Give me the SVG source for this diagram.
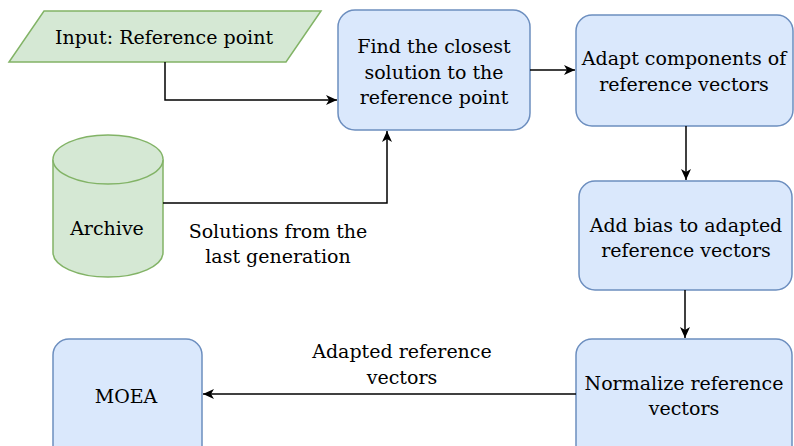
<svg xmlns="http://www.w3.org/2000/svg" width="794" height="446" viewBox="0 0 794 446">
<style>
text{font-family:"DejaVu Serif","Liberation Serif",serif;font-size:19px;fill:#000;text-anchor:middle}
.proc{fill:#dae8fc;stroke:#6c8ebf;stroke-width:1.5}
.io{fill:#d5e8d4;stroke:#82b366;stroke-width:1.5}
.edge{fill:none;stroke:#000;stroke-width:1.5;marker-end:url(#ah)}
</style>
<defs>
<marker id="ah" markerUnits="userSpaceOnUse" markerWidth="12" markerHeight="10" viewBox="0 0 12 10" refX="11" refY="5" orient="auto">
<path d="M0,0 L11,5 L0,10 L3,5 z" fill="#000"/>
</marker>
</defs>
<rect width="794" height="446" fill="#fff"/>
<g id="input">
<polygon class="io" points="44,11 321,11 286,62 9,62"/>
<text x="164" y="44">Input: Reference point</text>
</g>
<g id="archive">
<path class="io" d="M53,159.5 A55,24.5 0 0 1 163,159.5 L163,252.5 A55,24.5 0 0 1 53,252.5 Z"/>
<path class="io" d="M53,159.5 A55,24.5 0 0 0 163,159.5" fill="none"/>
<text x="107" y="235">Archive</text>
</g>
<g id="find">
<rect class="proc" x="338" y="10" width="192" height="120" rx="17"/>
<text x="434" y="53">Find the closest</text>
<text x="434" y="79">solution to the</text>
<text x="434" y="104">reference point</text>
</g>
<g id="adapt">
<rect class="proc" x="576" y="15" width="217" height="111" rx="16"/>
<text x="684" y="65">Adapt components of</text>
<text x="684" y="91">reference vectors</text>
</g>
<g id="bias">
<rect class="proc" x="579" y="181" width="213" height="109" rx="16"/>
<text x="686" y="232">Add bias to adapted</text>
<text x="686" y="257">reference vectors</text>
</g>
<g id="normalize">
<rect class="proc" x="576" y="339" width="216" height="125" rx="16"/>
<text x="684" y="390">Normalize reference</text>
<text x="684" y="415">vectors</text>
</g>
<g id="moea">
<rect class="proc" x="53" y="339" width="149" height="125" rx="16"/>
<text x="126" y="403">MOEA</text>
</g>
<g id="connectors">
<path class="edge" d="M165,62 L165,100 L337,100"/>
<path class="edge" d="M163,203 L387,203 L387,131"/>
<path class="edge" d="M530,70 L575,70"/>
<path class="edge" d="M686,126 L686,180"/>
<path class="edge" d="M685,290 L685,338"/>
<path class="edge" d="M576,394 L203,394"/>
<text x="278" y="238">Solutions from the</text>
<text x="278" y="263">last generation</text>
<text x="402" y="358">Adapted reference</text>
<text x="402" y="384">vectors</text>
</g>
</svg>
